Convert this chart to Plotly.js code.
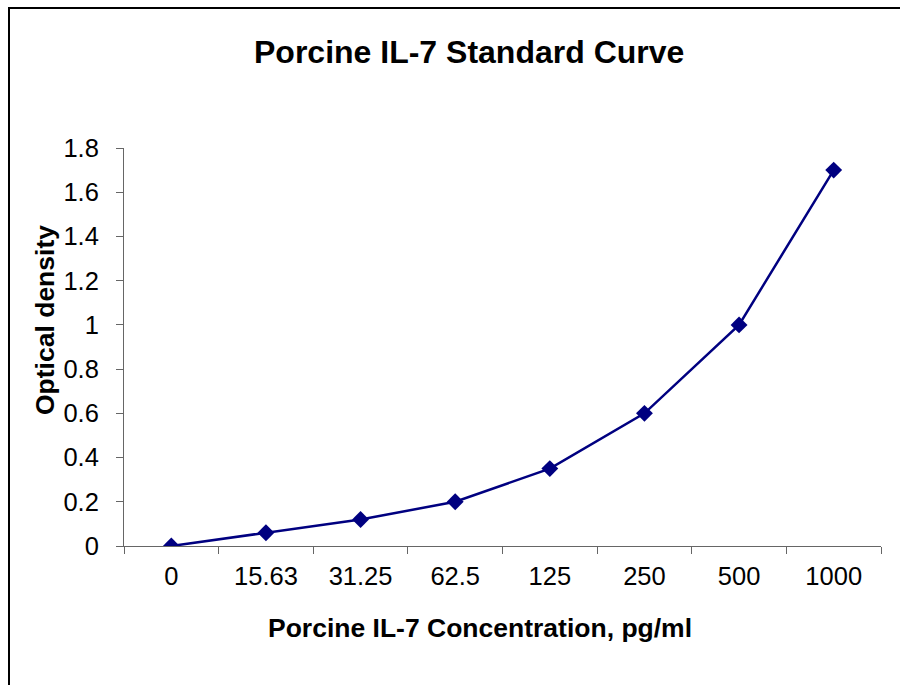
<!DOCTYPE html>
<html>
<head>
<meta charset="utf-8">
<script src="https://cdn.plot.ly/plotly-3.0.1.min.js"></script>
<style>
html,body{margin:0;padding:0;overflow:hidden;background:#fff;}
#wrap{position:relative;width:900px;height:685px;overflow:hidden;}
#chart{position:absolute;left:0;top:0;width:900px;height:685px;}
#frame{position:absolute;left:8px;top:7px;width:900px;height:700px;border-left:2px solid #000;border-top:2px solid #000;pointer-events:none;}
</style>
</head>
<body>
<div id="wrap"><div id="chart"></div><div id="frame"></div></div>
<script>
const categories = ["0", "15.63", "31.25", "62.5", "125", "250", "500", "1000"];
const opticalDensity = [0, 0.06, 0.12, 0.2, 0.35, 0.6, 1.0, 1.7];
const yTickValues = [0, 0.2, 0.4, 0.6, 0.8, 1, 1.2, 1.4, 1.6, 1.8];
const yTickLabels = ["0", "0.2", "0.4", "0.6", "0.8", "1", "1.2", "1.4", "1.6", "1.8"];
const chartTitle = "Porcine IL-7 Standard Curve";
const xTitle = "Porcine IL-7 Concentration, pg/ml";
const yTitle = "Optical density";

const font = "Liberation Sans, Arial, sans-serif";
const trace = {
  type: "scatter",
  mode: "lines+markers",
  x: categories,
  y: opticalDensity,
  line: {color: "#000080", width: 2.5},
  marker: {symbol: "diamond", size: 13, color: "#000080"},
  hoverinfo: "skip"
};
const layout = {
  width: 900, height: 685,
  paper_bgcolor: "#fff", plot_bgcolor: "#fff",
  margin: {l: 124, r: 19, t: 148, b: 139},
  showlegend: false,
  font: {family: font, color: "#000", size: 25},
  xaxis: {
    type: "category",
    tickson: "boundaries",
    ticks: "outside", ticklen: 7, tickcolor: "#666", tickwidth: 1,
    showline: true, linecolor: "#666", linewidth: 1,
    showgrid: false, zeroline: false,
    tickfont: {family: font, size: 25.5, color: "#000"},
    ticklabelstandoff: 7,
    range: [-0.5, 7.5]
  },
  yaxis: {
    range: [0, 1.8],
    tickvals: yTickValues, ticktext: yTickLabels,
    ticks: "outside", ticklen: 7, tickcolor: "#666", tickwidth: 1,
    showline: true, linecolor: "#666", linewidth: 1,
    showgrid: false, zeroline: false,
    tickfont: {family: font, size: 25.5, color: "#000"},
    ticklabelstandoff: 12
  },
  annotations: [
    {text: "<b>" + chartTitle + "</b>", xref: "paper", yref: "paper",
     x: (468.5 - 124) / 757, y: (546 - 52) / 398, xanchor: "center", yanchor: "middle",
     showarrow: false, font: {family: font, size: 32, color: "#000"}},
    {text: "<b>" + xTitle + "</b>", xref: "paper", yref: "paper",
     x: (480 - 124) / 757, y: -(628 - 546) / 398, xanchor: "center", yanchor: "middle",
     showarrow: false, font: {family: font, size: 26.5, color: "#000"}},
    {text: "<b>" + yTitle + "</b>", xref: "paper", yref: "paper",
     x: -(124 - 45) / 757, y: (546 - 320) / 398, xanchor: "center", yanchor: "middle",
     textangle: -90,
     showarrow: false, font: {family: font, size: 26.5, color: "#000"}}
  ]
};
Plotly.newPlot("chart", [trace], layout, {displayModeBar: false, staticPlot: true});
</script>
</body>
</html>
